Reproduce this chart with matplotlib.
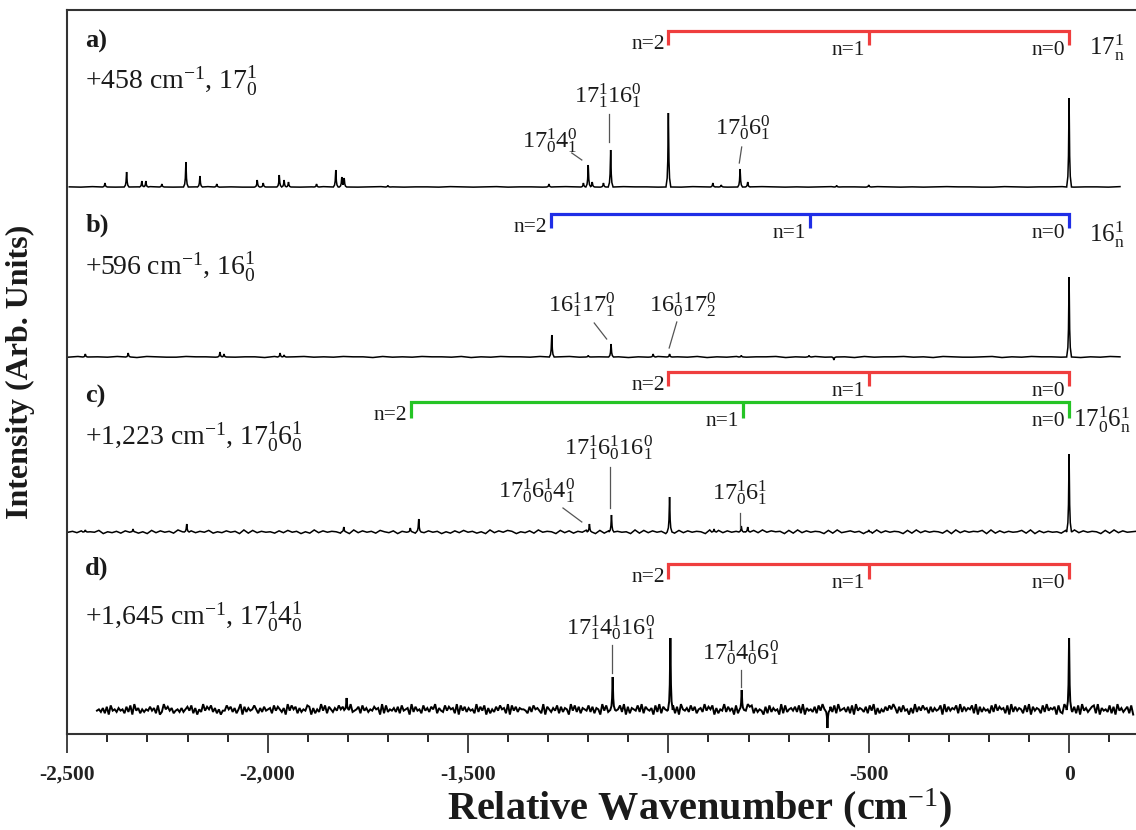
"""
Dispersed-fluorescence style stacked spectra, panels a-d, with progression brackets.
"""
import numpy as np
import matplotlib
matplotlib.use("Agg")
import matplotlib.pyplot as plt
from matplotlib.ticker import MultipleLocator, FuncFormatter

plt.rcParams["font.family"] = "serif"
plt.rcParams["font.serif"] = ["Liberation Serif", "DejaVu Serif"]
plt.rcParams["mathtext.fontset"] = "custom"
plt.rcParams["mathtext.rm"] = "Liberation Serif"
plt.rcParams["mathtext.it"] = "Liberation Serif:italic"
plt.rcParams["mathtext.bf"] = "Liberation Serif:bold"

# ---------------- data (positions in cm-1 relative to origin, heights arb.) ----------------
PEAKS_A_X = [0, -500, -580, -802, -821, -868, -889, -1000, -1144, -1162, -1190, -1200, -1212,
             -1298, -1700, -1809, -1815, -1830, -1878, -1948, -1959, -1971, -2011, -2026,
             -2127, -2169, -2204, -2264, -2304, -2314, -2352, -2406]
PEAKS_A_H = [89, 2, 1.5, 5, 18, 2, 4, 74, 37, 4, 5, 22, 4,
             3, 1.5, 9, 10, 17, 3, 5, 7, 12, 4, 7,
             3, 11, 25, 3, 6, 6, 15, 4]

PEAKS_B_X = [0, -587, -649, -818, -997, -1038, -1143, -1200, -1291, -1959, -1969, -2109, -2119,
             -2348, -2455]
PEAKS_B_H = [80, -3, 1.5, 1.5, 3, 3, 13, 1.5, 22, 2, 4, 3, 5, 4, 3]

PEAKS_C_X = [0, -500, -802, -818, -886, -997, -1142, -1197, -1623, -1644, -1810, -2202, -2336, -2455]
PEAKS_C_H = [78, 2, 5, 6, 3, 35, 17, 8, 13, 4, 5, 8, 3, 2]

PEAKS_D_X = [0, -603, -817, -995, -1139, -1803]
PEAKS_D_H = [72, -18, 20, 72, 33, 12]

SPAN_A = (-2495, 127)
SPAN_B = (-2498, 127)
SPAN_C = (-2498, 167)
SPAN_D = (-2426, 160)

# baseline ripple, one digit per sample (0-9, centred on 4.5)
NOISE_A = ("5465445654556454465545654456545546545645545654"
           "4565545465544565454565546545456554465455645546")
NOISE_B = ("4655465365446554645536456454655364546554635465"
           "5463564456535465546354645563546455364556453654"
           "4563546554635465")
NOISE_C = ("4637254815362746251837462951736482537461928364"
           "5273846152937465281937462853716492837461527384"
           "6251937486153729465183726495182736451928374615"
           "2837465192837461528394756182937465182935746182"
           "9374651829374652819374658192736458291736452819"
           "37465182937456")
NOISE_D = ("45362718453645273819462535474628139574624536"
           "35748261539475836251448573625917364585263745"
           "62847536194857263548716253948275364857261934"
           "57284635475619283546372845619374528463759264"
           "38475629184736452937481625374856291847365542"
           "73856429175364827365194837265483726519483726"
           "45839172654839275461839275463827195463847256"
           "39475816254937461826354978263541728364519283"
           "56473829164537284956173829456372819465372849"
           "16253748596273845162937485627364581937465829"
           "37465829173645283947562819374652839174652839"
           "46571832964537281946357829164538271946357281")

PROG_17 = [0, -500, -1000]
PROG_16 = [0, -647, -1293]
PROG_17_6 = [0, -815, -1642]

# ---------------- layout / style ----------------
PEAK_OFFSETS = [-6, -3, -1.5, 0, 1.5, 3, 6]
PEAK_SHAPE = [0.0, 0.12, 0.35, 1.0, 0.35, 0.12, 0.0]
TXT = "#1a1a1a"

panels = [
    dict(px=PEAKS_A_X, ph=PEAKS_A_H, span=SPAN_A, noise=NOISE_A, amp=0.25, base=547, lw=1.1,
         tag="a)", tag_y=686, desc="+458 cm$^{-1}$, $17^{1}_{0}$", desc_y=645),
    dict(px=PEAKS_B_X, ph=PEAKS_B_H, span=SPAN_B, noise=NOISE_B, amp=0.35, base=377, lw=1.1,
         tag="b)", tag_y=502, desc="+596 cm$^{-1}$, $16^{1}_{0}$", desc_y=459),
    dict(px=PEAKS_C_X, ph=PEAKS_C_H, span=SPAN_C, noise=NOISE_C, amp=0.45, base=202, lw=1.1,
         tag="c)", tag_y=331, desc="+1,223 cm$^{-1}$, $17^{1}_{0}6^{1}_{0}$", desc_y=289),
    dict(px=PEAKS_D_X, ph=PEAKS_D_H, span=SPAN_D, noise=NOISE_D, amp=1.3, base=24, lw=1.4,
         tag="d)", tag_y=159, desc="+1,645 cm$^{-1}$, $17^{1}_{0}4^{1}_{0}$", desc_y=109),
]

# (progression, colour, bar height, tick length, series label, label x, label baseline)
brackets = [
    (PROG_17, "#ef3e3e", 703, 14, r"$17^{1}_{\mathrm{n}}$", 50, 679),
    (PROG_16, "#1f2ee6", 520, 14, r"$16^{1}_{\mathrm{n}}$", 50, 492),
    (PROG_17, "#ef3e3e", 362, 14, None, 0, 0),
    (PROG_17_6, "#25c425", 332, 16, r"$17^{1}_{0}6^{1}_{\mathrm{n}}$", 10, 307),
    (PROG_17, "#ef3e3e", 170, 15, None, 0, 0),
]

# peak assignments: text, label centre x, label baseline y, leader line
assign = [
    (r"$17^{1}_{0}4^{0}_{1}$", -1295, 586, (-1241, 581), (-1216, 574)),
    (r"$17^{1}_{1}16^{0}_{1}$", -1150, 631, (-1148, 620), (-1148, 592)),
    (r"$17^{1}_{0}6^{0}_{1}$", -813, 599, (-817, 587), (-823, 571)),
    (r"$16^{1}_{1}17^{0}_{1}$", -1215, 422, (-1185, 411), (-1154, 395)),
    (r"$16^{1}_{0}17^{0}_{2}$", -963, 422, (-979, 412), (-998, 386)),
    (r"$17^{1}_{0}6^{1}_{0}4^{0}_{1}$", -1328, 236, (-1263, 226), (-1216, 212)),
    (r"$17^{1}_{1}6^{1}_{0}16^{0}_{1}$", -1150, 279, (-1146, 267), (-1146, 226)),
    (r"$17^{1}_{0}6^{1}_{1}$", -821, 234, (-821, 221), (-821, 206)),
    (r"$17^{1}_{1}4^{1}_{0}16^{0}_{1}$", -1143, 99, (-1140, 89), (-1140, 61)),
    (r"$17^{1}_{0}4^{1}_{0}6^{0}_{1}$", -821, 74, (-818, 64), (-818, 47)),
]


def trace(px, ph, span, noise, amp):
    px = np.asarray(px, float)
    ph = np.asarray(ph, float)
    nx = np.linspace(span[0], span[1], len(noise))
    ny = (np.array([int(c) for c in noise]) - 4.5) * amp
    keep = np.min(np.abs(nx[:, None] - px[None, :]), axis=1) > 6.5
    kx = (px[:, None] + np.asarray(PEAK_OFFSETS)[None, :]).ravel()
    ky = np.zeros_like(kx)
    for c, h in zip(px, ph):
        ky += np.interp(kx, c + np.asarray(PEAK_OFFSETS), h * np.asarray(PEAK_SHAPE), left=0, right=0)
    x = np.concatenate([nx[keep], kx])
    y = np.concatenate([ny[keep], ky])
    o = np.argsort(x, kind="stable")
    return x[o], y[o]


fig = plt.figure(figsize=(11.36, 8.30), dpi=100)
ax = fig.add_axes([67.3 / 1136, 96 / 830, (1136 - 67.3) / 1136, 724 / 830])

for p in panels:
    x, y = trace(p["px"], p["ph"], p["span"], p["noise"], p["amp"])
    ax.plot(x, y + p["base"], color="black", lw=p["lw"], solid_joinstyle="miter")
    ax.text(-2455, p["tag_y"], p["tag"], fontsize=19, fontweight="bold", color=TXT, va="baseline")
    ax.text(-2455, p["desc_y"], p["desc"], fontsize=20, color=TXT, va="baseline")

for prog, col, yb, tl, lab, lx, ly in brackets:
    lo, hi = min(prog), max(prog)
    ax.plot([lo, lo, hi, hi], [yb - tl, yb, yb, yb - tl], color=col, lw=2.3,
            solid_joinstyle="miter", solid_capstyle="butt")
    for k, pos in enumerate(prog):
        if pos not in (lo, hi):
            ax.plot([pos, pos], [yb, yb - tl], color=col, lw=2.3, solid_capstyle="butt")
        dy = 18 if k == 2 else 24
        ax.text(pos - 9, yb - dy, "n=%d" % k, fontsize=15.5, color=TXT, ha="right", va="baseline")
    if lab:
        ax.text(lx, ly, lab, fontsize=18, color=TXT, ha="left", va="baseline")

for txt, tx, ty, p0, p1 in assign:
    ax.text(tx, ty, txt, fontsize=17.5, color=TXT, ha="center", va="baseline")
    ax.plot([p0[0], p1[0]], [p0[1], p1[1]], color="#555555", lw=0.9)

ax.set_xlim(-2500, 167)
ax.set_ylim(0, 724)
ax.xaxis.set_major_locator(MultipleLocator(500))
ax.xaxis.set_minor_locator(MultipleLocator(100))
ax.xaxis.set_major_formatter(FuncFormatter(lambda v, _: "{:,.0f}".format(v)))
ax.tick_params(axis="x", which="major", direction="out", length=14, width=1.2, pad=8,
               labelsize=15.5, colors="#222222")
ax.tick_params(axis="x", which="minor", direction="out", length=6, width=1.2)
for lbl in ax.get_xticklabels():
    lbl.set_fontweight("bold")
ax.set_yticks([])
ax.spines["right"].set_visible(False)
for s in ("left", "top", "bottom"):
    ax.spines[s].set_linewidth(1.5)
    ax.spines[s].set_color("#333333")

ax.set_xlabel("Relative Wavenumber (cm$^{-1}$)", fontsize=29, fontweight="bold", color=TXT)
ax.xaxis.set_label_coords(0.592, -0.072)
ax.set_ylabel("Intensity (Arb. Units)", fontsize=23, fontweight="bold", color=TXT)
ax.yaxis.set_label_coords(-0.030, 0.5)

fig.savefig("out.png", dpi=100)
